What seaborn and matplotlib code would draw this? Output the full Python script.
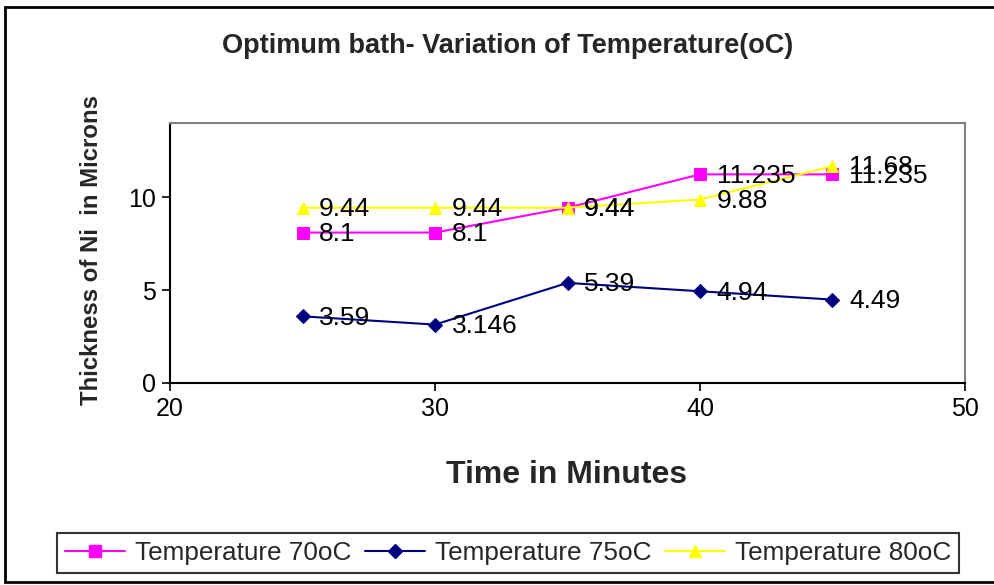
import matplotlib
matplotlib.use("Agg")
import matplotlib.pyplot as plt
import seaborn as sns
import pandas as pd
from matplotlib.patches import Rectangle
from matplotlib.lines import Line2D

# ---- data ----
time_min = [25, 30, 35, 40, 45]
temp_70 = [8.1, 8.1, 9.44, 11.235, 11.235]
temp_75 = [3.59, 3.146, 5.39, 4.94, 4.49]
temp_80 = [9.44, 9.44, 9.44, 9.88, 11.68]
series_names = ["Temperature 70oC", "Temperature 75oC", "Temperature 80oC"]
label_70 = ["8.1", "8.1", "9.44", "11.235", "11.235"]
label_75 = ["3.59", "3.146", "5.39", "4.94", "4.49"]
label_80 = ["9.44", "9.44", "9.44", "9.88", "11.68"]
x_ticks = [20, 30, 40, 50]
y_ticks = [0, 5, 10]

sns.set_theme(style="white")
plt.rcParams['font.family'] = ['Liberation Sans', 'DejaVu Sans']

fig = plt.figure(figsize=(9.95, 5.85), dpi=100)
ax = fig.add_axes([170/995, 1-383/585, (965-170)/995, (383-123)/585])

colors = ["#FF00FF", "#000080", "#FFFF00"]
markers = ["s", "D", "^"]
msizes = [8, 7, 9]
series = [temp_70, temp_75, temp_80]
labels = [label_70, label_75, label_80]

for name, vals, col, mk, ms in zip(series_names, series, colors, markers, msizes):
    df = pd.DataFrame({"t": time_min, "v": vals})
    sns.lineplot(data=df, x="t", y="v", ax=ax, color=col, marker=mk,
                 markersize=ms, markeredgecolor=col, linewidth=1.5, label=name,
                 legend=False)

for vals, labs in zip(series, labels):
    for t, v, s in zip(time_min, vals, labs):
        ax.annotate(s, (t, v), xytext=(12, -1), textcoords="offset points",
                    ha="left", va="center", fontsize=19, color="black")

ax.set_xlim(20, 50)
ax.set_ylim(0, 14)
ax.set_xticks(x_ticks)
ax.set_yticks(y_ticks)
ax.tick_params(axis="both", labelsize=18, colors="black", length=6, width=1.2,
               direction="out", bottom=True, left=True, pad=4)
ax.set_xlabel("")
ax.set_ylabel("")
for side in ["left", "bottom"]:
    ax.spines[side].set_color("black")
    ax.spines[side].set_linewidth(1.5)
for side in ["top", "right"]:
    ax.spines[side].set_visible(True)
    ax.spines[side].set_color("#808080")
    ax.spines[side].set_linewidth(1.5)

fig.text(508/995, 1-46/585, "Optimum bath- Variation of Temperature(oC)",
         ha="center", va="center", fontsize=19.5, fontweight="bold")
fig.text(567/995, 1-475/585, "Time in Minutes", ha="center", va="center",
         fontsize=23, fontweight="bold")
fig.text(92/995, 1-250/585, "Thickness of Ni  in Microns", ha="center", va="center",
         rotation=90, fontsize=17.3, fontweight="bold")

# outer border
fig.patches.append(Rectangle((5/995, 3/585), 1-5/995, 1-10/585, transform=fig.transFigure,
                             fill=False, edgecolor="black", linewidth=2))

handles = [Line2D([0], [0], color=c, marker=m, markersize=s, markeredgecolor=c, linewidth=1.5)
           for c, m, s in zip(colors, markers, msizes)]
leg = fig.legend(handles, series_names, loc="center", bbox_to_anchor=(508/995, 1-553/585),
                 ncol=3, frameon=True, fancybox=False, edgecolor="black", fontsize=18.8,
                 handlelength=2.3, columnspacing=0.5, handletextpad=0.4, borderpad=0.3)
leg.get_frame().set_linewidth(1.5)

fig.savefig("out.png", dpi=100)
